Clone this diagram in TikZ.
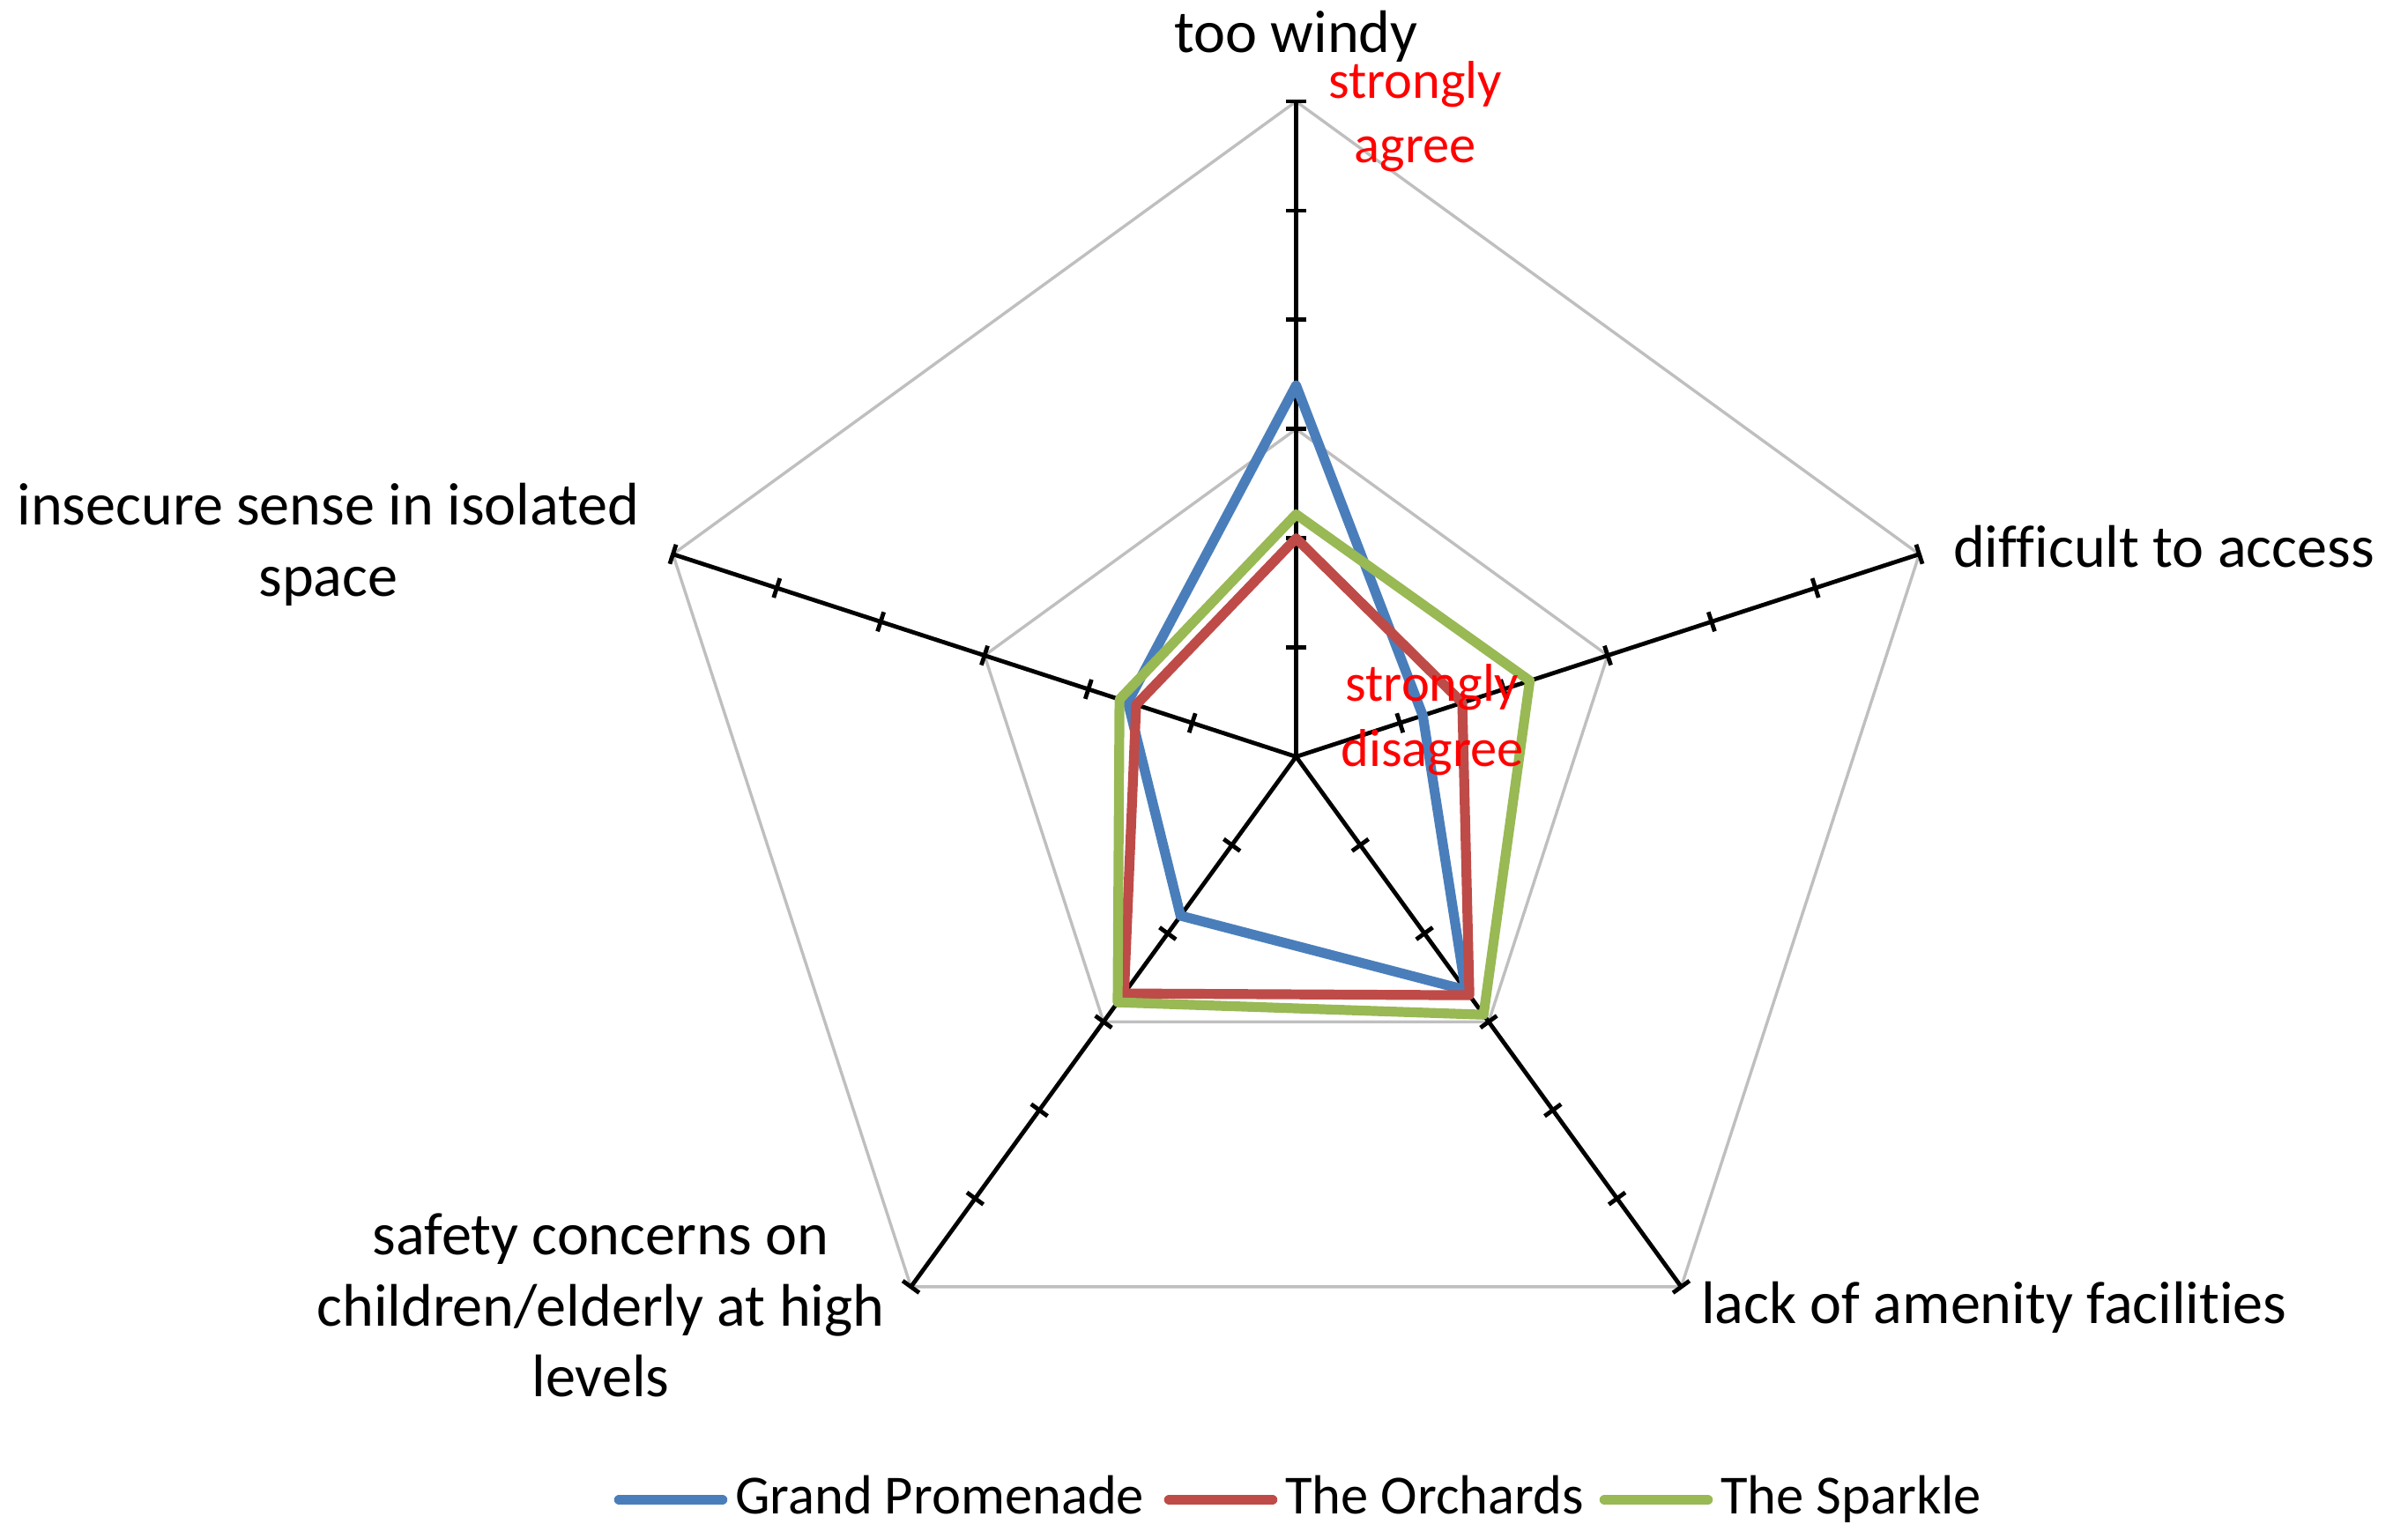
\documentclass[tikz,border=0pt]{standalone}
\usepackage{fontspec}
\setmainfont{Carlito}[Ligatures=NoCommon]
\definecolor{gpblue}{HTML}{4A7EBB}
\definecolor{orred}{HTML}{BE4B48}
\definecolor{spgreen}{HTML}{98B954}
\definecolor{gridgrey}{HTML}{BFBFBF}
\tikzset{
  axisline/.style={line width=0.048cm, black},
  gridline/.style={line width=0.034cm, gridgrey},
  series/.style={line width=0.112cm, line join=round},
  catlabel/.style={font=\fontsize{19.4}{23}\selectfont, inner sep=0pt, align=center},
  scalelabel/.style={font=\fontsize{17.2}{20.9}\selectfont, text=red, inner sep=0pt, align=center},
  keylabel/.style={font=\fontsize{17.8}{21}\selectfont, inner sep=0pt, anchor=base west},
}
\begin{document}
\begin{tikzpicture}
\useasboundingbox (-14.705,-8.705) rectangle (12.615,8.585);
\begin{scope}[scale=1.239]
% Drawing grid pentagons at 3 and 6
\draw [gridline] (90:3) -- (18:3) -- (-54:3) -- (-126:3) -- (162:3) -- cycle;
\draw [gridline] (90:6) -- (18:6) -- (-54:6) -- (-126:6) -- (162:6) -- cycle;

% Drawing axes with tick marks
\foreach \a in {90,18,-54,-126,162} {
  \draw [axisline] (0,0) -- (\a:6);
  \foreach \k in {1,...,6}
    \draw [axisline, rotate=\a] (\k,-0.093) -- (\k,0.093);
}

% Drawing series Grand Promenade
\draw [series, gpblue] (90:3.40) -- (18:1.22) -- (-54:2.64) -- (-126:1.80) -- (162:1.62) -- cycle;
% Drawing series The Orchards
\draw [series, orred] (90:2.00) -- (18:1.60) -- (-54:2.70) -- (-126:2.68) -- (162:1.54) -- cycle;
% Drawing series The Sparkle
\draw [series, spgreen] (90:2.22) -- (18:2.25) -- (-54:2.92) -- (-126:2.78) -- (162:1.70) -- cycle;
\end{scope}

% Category labels (base = last line)
\node [catlabel, anchor=base] (windy) at (0,7.985) {too windy};
\node [catlabel, anchor=base west] (access) at (7.45,2.15) {difficult to access};
\node [catlabel, anchor=base west] (amenity) at (4.59,-6.43) {lack of amenity facilities};
\node [catlabel, anchor=base] (safety) at (-7.89,-7.265) {safety concerns on\\children/elderly at high\\levels};
\node [catlabel, anchor=base] (insecure) at (-10.98,1.82) {insecure sense in isolated\\space};

% Scale labels
\node [scalelabel, anchor=base] (agree) at (1.353,6.735) {strongly\\agree};
\node [scalelabel, anchor=base] (disagree) at (1.545,-0.109) {strongly\\disagree};

% Legend
\node [keylabel] (gpkey) at (-6.37,-8.595) {Grand Promenade};
\node [keylabel] (orkey) at (-0.13,-8.595) {The Orchards};
\node [keylabel] (spkey) at (4.81,-8.595) {The Sparkle};
\draw [series, line width=0.115cm, gpblue, line cap=round] ([shift={(-0.14,0.165)}]gpkey.base west) -- ++(-1.17,0);
\draw [series, line width=0.115cm, orred, line cap=round] ([shift={(-0.14,0.165)}]orkey.base west) -- ++(-1.17,0);
\draw [series, line width=0.115cm, spgreen, line cap=round] ([shift={(-0.14,0.165)}]spkey.base west) -- ++(-1.17,0);
\end{tikzpicture}
\end{document}
